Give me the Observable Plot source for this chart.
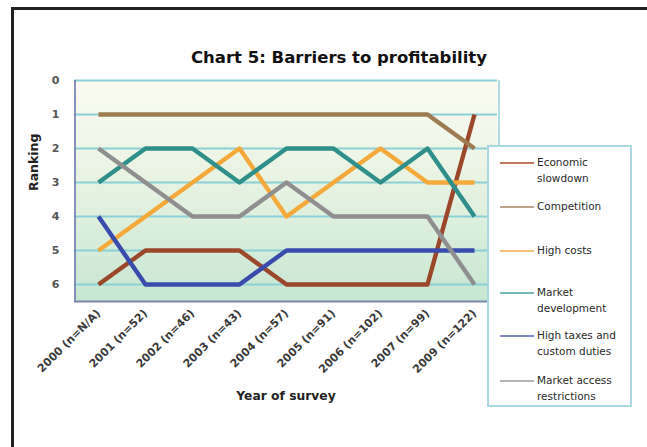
<!DOCTYPE html>
<html>
<head>
<meta charset="utf-8">
<script src="https://cdn.jsdelivr.net/npm/d3@7"></script>
<script src="https://cdn.jsdelivr.net/npm/@observablehq/plot@0.6"></script>
<style>
  html, body { margin: 0; padding: 0; background: #fff; }
  #wrap { position: relative; width: 647px; height: 447px; overflow: hidden; font-family: "DejaVu Sans", sans-serif; }
  #frame { position: absolute; left: 11px; top: 7px; width: 700px; height: 500px; border: 3px solid #222; box-sizing: border-box; }
  #title { position: absolute; left: 74px; width: 530px; top: 48px; text-align: center; font-weight: bold; font-size: 16.5px; color: #111; }
  #chart { position: absolute; left: 0; top: 0; }
  #legend { position: absolute; left: 487px; top: 145px; width: 145px; height: 262px; box-sizing: border-box; border: 2px solid #aad7df; background: #fff; }
  .item { position: absolute; left: 11px; display: flex; align-items: flex-start; }
  .sw { width: 34px; height: 2px; margin-top: 7px; margin-right: 3px; flex: none; }
  .lbl { font-size: 10.5px; line-height: 16px; color: #2a2a2a; margin-top: -1px; }
</style>
</head>
<body>
<div id="wrap">
  <div id="frame"></div>
  <div id="chart"></div>
  <div id="title">Chart 5: Barriers to profitability</div>
  <div id="legend"></div>
</div>
<script>
// Survey years (with sample size) on the x axis
const years = ["2000 (n=N/A)", "2001 (n=52)", "2002 (n=46)", "2003 (n=43)", "2004 (n=57)",
               "2005 (n=91)", "2006 (n=102)", "2007 (n=99)", "2009 (n=122)"];

// Ranking of each barrier per survey year (1 = most important)
const economicSlowdown   = [6, 5, 5, 5, 6, 6, 6, 6, 1];
const competition        = [1, 1, 1, 1, 1, 1, 1, 1, 2];
const highCosts          = [5, 4, 3, 2, 4, 3, 2, 3, 3];
const marketDevelopment  = [3, 2, 2, 3, 2, 2, 3, 2, 4];
const highTaxes          = [4, 6, 6, 6, 5, 5, 5, 5, 5];
const marketAccess       = [2, 3, 4, 4, 3, 4, 4, 4, 6];

const yTicks = [0, 1, 2, 3, 4, 5, 6];

const seriesNames  = ["Economic slowdown", "Competition", "High costs", "Market development",
                      "High taxes and custom duties", "Market access restrictions"];
const legendLines  = [["Economic", "slowdown"], ["Competition"], ["High costs"], ["Market", "development"],
                      ["High taxes and", "custom duties"], ["Market access", "restrictions"]];
const seriesValues = [economicSlowdown, competition, highCosts, marketDevelopment, highTaxes, marketAccess];
const seriesColors = ["#9b472b", "#9d7b53", "#f4a93a", "#2f8f8b", "#3a4bad", "#8f8f8f"];
const legendColors = ["#c07a5e", "#bca58c", "#f6c07a", "#76b8b5", "#7f89c9", "#b4b4b4"];

// Long table for the line marks
const rows = seriesNames.flatMap((name, i) =>
  years.map((year, j) => ({ series: name, year, rank: seriesValues[i][j] })));

const width = 647, height = 447;

const plot = Plot.plot({
  width, height,
  marginLeft: 74, marginRight: 150, marginTop: 80, marginBottom: 146,
  style: { fontFamily: "DejaVu Sans, sans-serif", background: "transparent", overflow: "visible" },
  x: { type: "point", domain: years, padding: 0.5, label: null },
  y: { domain: [0, 6.5], reverse: true, ticks: yTicks, label: null },
  color: { domain: seriesNames, range: seriesColors },
  marks: [
    Plot.frame({ fill: "url(#plotBg)", stroke: "none" }),
    Plot.ruleY(yTicks, { stroke: "#8ccfd5", strokeWidth: 1.8 }),
    Plot.ruleX([years[years.length - 1]], { stroke: "#a6d9de", strokeWidth: 1.8, dx: 24.5 }),
    Plot.ruleX([years[0]], { stroke: "#6b78b3", strokeWidth: 1.6, dx: -23.5 }),
    Plot.ruleY([6.5], { stroke: "#7c84aa", strokeWidth: 2.2 }),
    Plot.line(rows, { x: "year", y: "rank", z: "series", stroke: "series", strokeWidth: 4.4,
                      strokeLinejoin: "round", strokeLinecap: "butt" }),
    Plot.axisY(yTicks, { tickSize: 0, tickPadding: 15, fontSize: 11, fontWeight: "bold", fill: "#555",
                         label: null }),
    Plot.axisX({ tickSize: 0, tickRotate: -45, tickPadding: 10, fontSize: 11, fontWeight: "bold", fill: "#3a3a3a",
                 label: null }),
    Plot.text(["Ranking"], { frameAnchor: "left", dx: -41, rotate: -90, fontSize: 12.5, fontWeight: "bold",
                             fill: "#222" }),
    Plot.text(["Year of survey"], { frameAnchor: "bottom", dy: 98, fontSize: 12.3, fontWeight: "bold",
                                    fill: "#222" })
  ]
});

// Cream-to-green backdrop gradient for the plot area
const svg = d3.select(plot);
const grad = svg.insert("defs", ":first-child").append("linearGradient")
  .attr("id", "plotBg").attr("x1", 0).attr("y1", 0).attr("x2", 0).attr("y2", 1);
grad.append("stop").attr("offset", "0%").attr("stop-color", "#fbfbf2");
grad.append("stop").attr("offset", "45%").attr("stop-color", "#e8f3e2");
grad.append("stop").attr("offset", "100%").attr("stop-color", "#c6e6d2");

document.getElementById("chart").appendChild(plot);

// Legend box
const legend = document.getElementById("legend");
const tops = [8, 52, 96, 138, 181, 226];
legendLines.forEach((lines, i) => {
  const item = document.createElement("div");
  item.className = "item";
  item.style.top = tops[i] + "px";
  const sw = document.createElement("div");
  sw.className = "sw";
  sw.style.background = legendColors[i];
  const lbl = document.createElement("div");
  lbl.className = "lbl";
  lbl.innerHTML = lines.join("<br>");
  item.appendChild(sw);
  item.appendChild(lbl);
  legend.appendChild(item);
});
</script>
</body>
</html>
